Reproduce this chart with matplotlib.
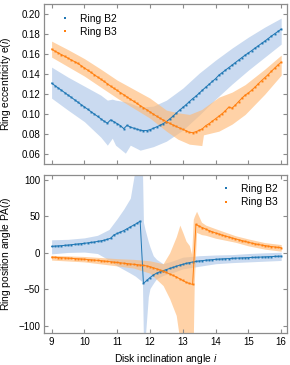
import numpy as np
import matplotlib
matplotlib.use("Agg")
import matplotlib.pyplot as plt

plt.rcParams['font.family'] = ['Liberation Sans', 'DejaVu Sans']
plt.rcParams['mathtext.fontset'] = 'custom'
plt.rcParams['mathtext.it'] = 'Liberation Sans:italic'
plt.rcParams['mathtext.rm'] = 'Liberation Sans'

# disk inclination grid (0.1 step, 9..16)
incl = np.round(np.arange(9.0, 16.001, 0.1), 1)

# ring eccentricity e(i)
ecc_b2 = [0.1310, 0.1286, 0.1262, 0.1239, 0.1215, 0.1191, 0.1168, 0.1144, 0.1120, 0.1096,
          0.1073, 0.1049, 0.1025, 0.1002, 0.0978, 0.0954, 0.0930, 0.0910, 0.0943, 0.0925,
          0.0905, 0.0885, 0.0855, 0.0888, 0.0872, 0.0860, 0.0850, 0.0840, 0.0836, 0.0836,
          0.0845, 0.0858, 0.0873, 0.0888, 0.0905, 0.0925, 0.0952, 0.0980, 0.1010, 0.1040,
          0.1067, 0.1095, 0.1125, 0.1155, 0.1180, 0.1210, 0.1240, 0.1270, 0.1298, 0.1327,
          0.1355, 0.1390, 0.1415, 0.1440, 0.1465, 0.1490, 0.1515, 0.1540, 0.1565, 0.1590,
          0.1612, 0.1635, 0.1660, 0.1683, 0.1707, 0.1730, 0.1755, 0.1780, 0.1803, 0.1827,
          0.1850]
ecc_b3 = [0.1650, 0.1630, 0.1613, 0.1595, 0.1578, 0.1560, 0.1542, 0.1525, 0.1507, 0.1485,
          0.1462, 0.1440, 0.1417, 0.1395, 0.1372, 0.1350, 0.1327, 0.1304, 0.1280, 0.1258,
          0.1237, 0.1215, 0.1194, 0.1172, 0.1150, 0.1129, 0.1107, 0.1086, 0.1065, 0.1044,
          0.1023, 0.1001, 0.0980, 0.0960, 0.0942, 0.0925, 0.0908, 0.0892, 0.0877, 0.0862,
          0.0848, 0.0835, 0.0818, 0.0815, 0.0825, 0.0838, 0.0855, 0.0885, 0.0905, 0.0930,
          0.0955, 0.0980, 0.1005, 0.1035, 0.1070, 0.1060, 0.1090, 0.1125, 0.1160, 0.1190,
          0.1212, 0.1240, 0.1270, 0.1303, 0.1335, 0.1365, 0.1395, 0.1428, 0.1460, 0.1492,
          0.1520]

# uncertainty bands of e(i)
ecc_b2_band_x = [9.0, 9.5, 10.0, 10.5, 10.7, 10.85, 10.95, 11.25, 11.4, 11.7, 12.1, 12.5,
                 13.0, 13.5, 14.0, 14.5, 15.0, 15.5, 16.0]
ecc_b2_lo = [0.116, 0.104, 0.0925, 0.077, 0.069, 0.076, 0.069, 0.061, 0.069, 0.064, 0.0675, 0.073,
             0.084, 0.099, 0.115, 0.130, 0.144, 0.157, 0.170]
ecc_b2_hi = [0.147, 0.137, 0.128, 0.119, 0.114, 0.115, 0.114, 0.1125, 0.111, 0.107, 0.108, 0.114,
             0.126, 0.141, 0.154, 0.166, 0.177, 0.187, 0.196]
ecc_b3_band_x = [9.0, 9.5, 10.0, 10.5, 11.0, 11.5, 12.0, 12.5, 12.85, 13.2, 13.58, 13.63,
                 14.1, 14.5, 14.9, 15.5, 16.0]
ecc_b3_lo = [0.157, 0.1475, 0.138, 0.127, 0.116, 0.106, 0.096, 0.083, 0.075, 0.070, 0.0686, 0.0793,
             0.083, 0.090, 0.0997, 0.120, 0.139]
ecc_b3_hi = [0.173, 0.1645, 0.1555, 0.145, 0.134, 0.125, 0.116, 0.104, 0.1014, 0.0997, 0.1047, 0.106,
             0.117, 0.122, 0.1295, 0.145, 0.159]

# ring position angle PA(i)
pa_b2 = [8.8, 9.2, 9.5, 9.8, 10.2, 10.6, 11.1, 11.6, 12.1, 12.6,
         13.0, 13.6, 14.2, 14.8, 15.6, 16.4, 17.3, 18.5, 20.0, 24.6,
         26.5, 28.5, 30.5, 33.0, 35.5, 38.0, 40.5, 43.5, -42.0, -38.0,
         -34.0, -30.5, -28.0, -26.0, -24.5, -23.0, -21.5, -20.0, -18.5, -17.0,
         -15.8, -14.6, -13.5, -12.6, -11.8, -11.2, -10.7, -10.2, -9.8, -9.4,
         -9.0, -8.7, -8.4, -8.1, -7.9, -7.6, -7.4, -7.2, -7.0, -6.8,
         -6.6, -6.4, -6.2, -6.0, -5.8, -5.6, -5.4, -5.2, -5.0, -4.8,
         -4.6]
pa_b3 = [-6.0, -6.3, -6.5, -6.8, -7.0, -7.3, -7.6, -7.9, -8.2, -8.5,
         -8.8, -9.2, -9.6, -10.0, -10.4, -10.8, -11.3, -11.8, -12.3, -12.8,
         -13.3, -13.8, -14.3, -14.8, -15.3, -15.8, -16.3, -16.8, -17.3, -18.0,
         -19.0, -20.5, -22.0, -23.5, -25.0, -27.0, -29.0, -31.0, -33.0, -35.5,
         -38.0, -40.5, -42.0, -43.5, 39.0, 36.5, 34.5, 32.5, 30.5, 28.8,
         27.2, 25.8, 24.3, 23.0, 21.7, 20.4, 19.2, 18.0, 16.8, 15.6,
         14.4, 13.3, 12.3, 11.4, 10.6, 9.9, 9.2, 8.6, 8.0, 7.4,
         7.0]

# uncertainty bands of PA(i)
pa_b2_band_x = [9.0, 9.5, 10.0, 10.4, 10.75, 11.0, 11.2, 11.4, 11.55, 11.77, 11.8, 11.85, 11.95,
                12.0, 12.1, 12.2, 12.4, 12.7, 13.0, 13.5, 14.0, 14.5, 15.0, 15.5, 16.0]
pa_b2_lo = [-1.5, 0.5, 1.0, -1.0, -10.0, -18.0, -23.0, -28.0, -32.0, -40.0, -120.0, -120.0, -60.0,
            -49.0, -42.0, -35.5, -31.0, -27.0, -22.0, -18.5, -15.0, -13.5, -12.5, -11.5, -10.5]
pa_b2_hi = [17.8, 18.5, 20.5, 24.0, 32.0, 47.0, 60.0, 75.0, 115.0, 115.0, 42.0, 32.0, 15.0,
            8.0, -4.0, -9.0, -15.0, -11.0, -6.0, -4.0, -3.0, -2.5, -1.0, 0.0, 0.8]
pa_b3_band_x = [9.0, 10.0, 11.0, 11.5, 12.0, 12.4, 12.6, 12.8, 12.91, 13.0, 13.1, 13.2, 13.27,
                13.32, 13.35, 13.42, 13.57, 13.7, 14.0, 14.6, 15.0, 15.5, 16.0]
pa_b3_lo = [-10.0, -12.5, -18.0, -21.0, -28.0, -45.0, -63.0, -86.0, -120.0, -120.0, -120.0, -120.0, -120.0,
            -120.0, -40.0, 28.0, 25.0, 24.0, 20.0, 14.5, 9.5, 5.0, 2.2]
pa_b3_hi = [-3.5, -5.0, -8.0, -9.0, -11.0, -15.0, 0.0, 22.0, 38.0, 28.0, 16.0, 10.0, -2.0,
            46.0, 50.0, 57.0, 42.0, 38.0, 33.0, 23.5, 19.0, 14.0, 11.3]

C_B2, C_B3 = '#1f77b4', '#ff7f0e'
BAND_B2, BAND_B3 = '#aec7e8', '#ffbb78'
SPINE = '#8c8c8c'
FS_TICK, FS_LABEL = 7.0, 7.4

fig = plt.figure(figsize=(2.9, 3.65), dpi=100)
ax1 = fig.add_axes([0.153, 0.551, 0.837, 0.437])
ax2 = fig.add_axes([0.153, 0.087, 0.837, 0.434])


def draw_series(ax, x, y, bx, lo, hi, color, band, label):
    ax.fill_between(bx, lo, hi, color=band, alpha=0.65, linewidth=0)
    ax.plot(x, y, color=color, lw=0.7)
    ax.plot(x, y, ls='none', marker='s', ms=1.4, mew=0, color=color, label=label)


draw_series(ax1, incl, ecc_b2, ecc_b2_band_x, ecc_b2_lo, ecc_b2_hi, C_B2, BAND_B2, 'Ring B2')
draw_series(ax1, incl, ecc_b3, ecc_b3_band_x, ecc_b3_lo, ecc_b3_hi, C_B3, BAND_B3, 'Ring B3')
draw_series(ax2, incl, pa_b2, pa_b2_band_x, pa_b2_lo, pa_b2_hi, C_B2, BAND_B2, 'Ring B2')
draw_series(ax2, incl, pa_b3, pa_b3_band_x, pa_b3_lo, pa_b3_hi, C_B3, BAND_B3, 'Ring B3')

ax1.set_ylim(0.0503, 0.2097)
ax1.set_yticks([0.06, 0.08, 0.10, 0.12, 0.14, 0.16, 0.18, 0.20])
ax1.set_yticklabels(['0.06', '0.08', '0.10', '0.12', '0.14', '0.16', '0.18', '0.20'])
ax2.set_ylim(-110.4, 107)
ax2.set_yticks([-100, -50, 0, 50, 100])

for ax in (ax1, ax2):
    ax.set_xlim(8.78, 16.18)
    ax.set_xticks(range(9, 17))
    ax.tick_params(direction='in', length=3, width=0.8, color=SPINE, labelsize=FS_TICK,
                   top=True, right=True, pad=3)
    for s in ax.spines.values():
        s.set_color(SPINE)
        s.set_linewidth(0.9)

ax1.tick_params(labelbottom=False)

ax1.set_ylabel('Ring eccentricity e($\\mathit{i}$)', fontsize=FS_LABEL)
ax2.set_ylabel('Ring position angle PA($\\mathit{i}$)', fontsize=FS_LABEL)
ax2.set_xlabel('Disk inclination angle $\\mathit{i}$', fontsize=FS_LABEL)
ax1.yaxis.set_label_coords(-0.128, 0.5)
ax2.yaxis.set_label_coords(-0.128, 0.5)
ax2.xaxis.set_label_coords(0.5, -0.118)

ax1.legend(loc='upper left', frameon=False, fontsize=FS_LABEL, markerscale=1.4,
           handlelength=1.2, handletextpad=0.9, labelspacing=0.3, borderaxespad=0.5,
           bbox_to_anchor=(0.02, 1.0))
ax2.legend(loc='upper right', frameon=False, fontsize=FS_LABEL, markerscale=1.4,
           handlelength=1.2, handletextpad=0.9, labelspacing=0.3, borderaxespad=0.5)

fig.savefig('out.png', dpi=100)
